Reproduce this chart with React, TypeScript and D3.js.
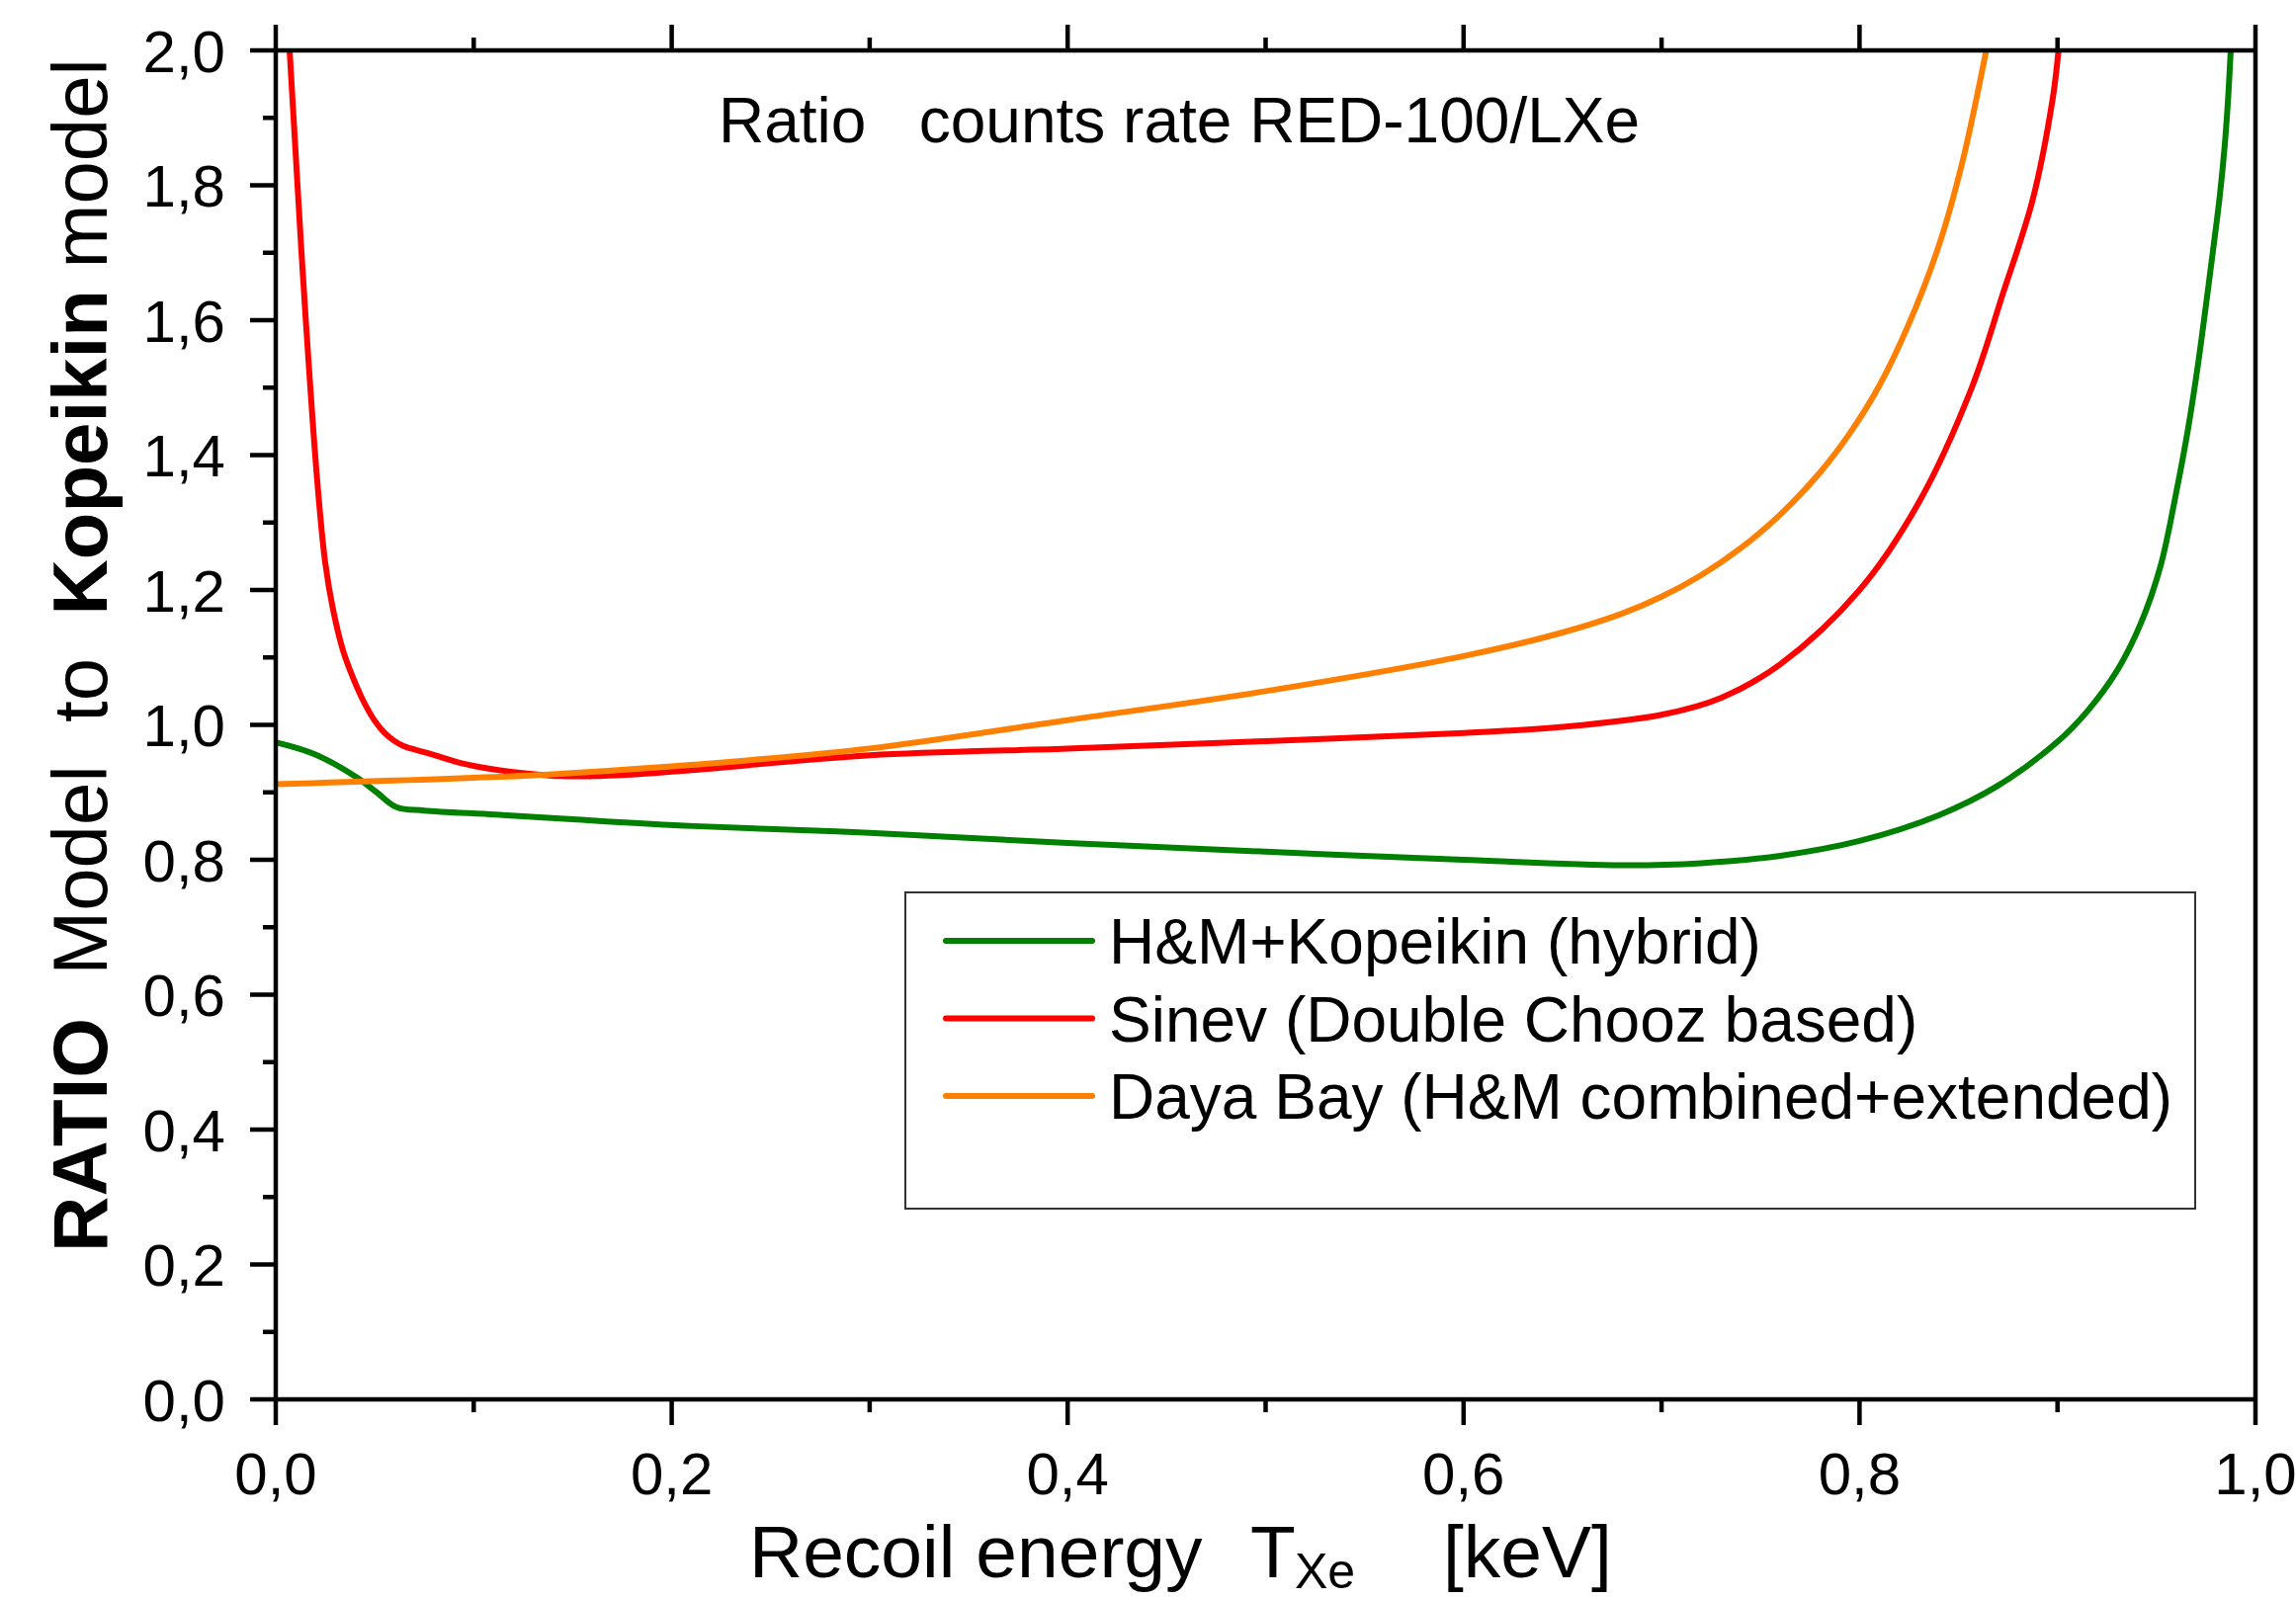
import * as d3 from "d3";

// H&M+Kopeikin (hybrid)
const hybridE = [0, 0.02, 0.041, 0.051, 0.061, 0.075, 0.111, 0.15, 0.211, 0.3, 0.4, 0.5, 0.6, 0.68, 0.72, 0.76, 0.8, 0.84, 0.87, 0.9, 0.915, 0.93, 0.942, 0.952, 0.96, 0.966, 0.971, 0.9755, 0.9795, 0.982, 0.9845, 0.9862, 0.9875];
const hybridR = [0.974, 0.956, 0.922, 0.9, 0.878, 0.873, 0.867, 0.86, 0.85, 0.84, 0.825, 0.812, 0.8, 0.792, 0.795, 0.806, 0.828, 0.866, 0.91, 0.975, 1.02, 1.08, 1.15, 1.235, 1.345, 1.44, 1.535, 1.634, 1.725, 1.785, 1.86, 1.93, 2.0];

// Sinev (Double Chooz based)
const sinevE = [0.007, 0.01, 0.013, 0.017, 0.021, 0.025, 0.029, 0.034, 0.039, 0.044, 0.05, 0.055, 0.06, 0.065, 0.077, 0.094, 0.11, 0.127, 0.144, 0.16, 0.177, 0.21, 0.3, 0.4, 0.5, 0.6, 0.65, 0.7, 0.73, 0.76, 0.8, 0.83, 0.8567, 0.8725, 0.8875, 0.8975, 0.9005];
const sinevR = [2.0, 1.85, 1.7, 1.52, 1.36, 1.24, 1.17, 1.11, 1.07, 1.037, 1.006, 0.988, 0.976, 0.968, 0.958, 0.943, 0.934, 0.928, 0.924, 0.924, 0.926, 0.933, 0.955, 0.965, 0.976, 0.988, 0.997, 1.015, 1.04, 1.09, 1.2, 1.33, 1.5, 1.64, 1.779, 1.927, 2.0];

// Daya Bay (H&M combined+extended)
const dayaE = [0, 0.128, 0.211, 0.3, 0.4, 0.5, 0.6, 0.65, 0.68, 0.7, 0.72, 0.74, 0.76, 0.78, 0.795, 0.81, 0.825, 0.84, 0.852, 0.864];
const dayaR = [0.912, 0.925, 0.941, 0.965, 1.007, 1.05, 1.102, 1.137, 1.165, 1.19, 1.222, 1.262, 1.312, 1.374, 1.432, 1.503, 1.595, 1.71, 1.835, 2.0];

const seriesNames = ["H&M+Kopeikin (hybrid)", "Sinev (Double Chooz based)", "Daya Bay (H&M combined+extended)"];
const seriesColors = ["#008000", "#ff0000", "#ff8000"];

const xMajor = [0, 0.2, 0.4, 0.6, 0.8, 1.0];
const xMinor = [0.1, 0.3, 0.5, 0.7, 0.9];
const yMajor = [0, 0.2, 0.4, 0.6, 0.8, 1.0, 1.2, 1.4, 1.6, 1.8, 2.0];
const yMinor = [0.1, 0.3, 0.5, 0.7, 0.9, 1.1, 1.3, 1.5, 1.7, 1.9];

const W = 2323;
const H = 1618;
const FONT = "'Liberation Sans', Arial, Helvetica, sans-serif";

const fmt = (v: number) => d3.format(".1f")(v).replace(".", ",");

export default function App() {
  const x = d3.scaleLinear().domain([0, 1]).range([279, 2282]);
  const y = d3.scaleLinear().domain([0, 2]).range([1416, 51]);

  const line = d3
    .line<[number, number]>()
    .x((d) => x(d[0]))
    .y((d) => y(d[1]))
    .curve(d3.curveCatmullRom.alpha(0.5));

  const series = [
    d3.zip(hybridE, hybridR) as [number, number][],
    d3.zip(sinevE, sinevR) as [number, number][],
    d3.zip(dayaE, dayaR) as [number, number][],
  ];

  const major = 26;
  const minor = 13;
  const sw = 4.5;

  return (
    <svg
      width={W}
      height={H}
      style={{ position: "absolute", left: 0, top: 0, background: "#fff" }}
      fontFamily={FONT}
    >
      <defs>
        <clipPath id="plot">
          <rect x={x(0)} y={y(2)} width={x(1) - x(0)} height={y(0) - y(2)} />
        </clipPath>
      </defs>
      <rect width={W} height={H} fill="#fff" />

      {/* curves */}
      <g clipPath="url(#plot)">
        {series.map((s, i) => (
          <path
            key={i}
            d={line(s) || ""}
            fill="none"
            stroke={seriesColors[i]}
            strokeWidth={6}
            strokeLinejoin="round"
          />
        ))}
      </g>

      {/* frame */}
      <g stroke="#000" strokeWidth={sw} fill="none">
        <line x1={x(0)} x2={x(1)} y1={y(0)} y2={y(0)} />
        <line x1={x(0)} x2={x(1)} y1={y(2)} y2={y(2)} />
        <line x1={x(0)} x2={x(0)} y1={y(0)} y2={y(2)} />
        <line x1={x(1)} x2={x(1)} y1={y(0)} y2={y(2)} />
        {/* bottom + top ticks */}
        {xMajor.map((v) => (
          <g key={"xM" + v}>
            <line x1={x(v)} x2={x(v)} y1={y(0)} y2={y(0) + major} />
            <line x1={x(v)} x2={x(v)} y1={y(2)} y2={y(2) - major} />
          </g>
        ))}
        {xMinor.map((v) => (
          <g key={"xm" + v}>
            <line x1={x(v)} x2={x(v)} y1={y(0)} y2={y(0) + minor} />
            <line x1={x(v)} x2={x(v)} y1={y(2)} y2={y(2) - minor} />
          </g>
        ))}
        {/* left ticks */}
        {yMajor.map((v) => (
          <line key={"yM" + v} x1={x(0) - major} x2={x(0)} y1={y(v)} y2={y(v)} />
        ))}
        {yMinor.map((v) => (
          <line key={"ym" + v} x1={x(0) - minor} x2={x(0)} y1={y(v)} y2={y(v)} />
        ))}
      </g>

      {/* tick labels */}
      <g fontSize={60} fill="#000">
        {xMajor.map((v) => (
          <text key={"xl" + v} x={x(v)} y={1512} textAnchor="middle">
            {fmt(v)}
          </text>
        ))}
        {yMajor.map((v) => (
          <text key={"yl" + v} x={228} y={y(v)} dy="0.36em" textAnchor="end">
            {fmt(v)}
          </text>
        ))}
      </g>

      {/* title */}
      <text x={727} y={144} fontSize={64} style={{ whiteSpace: "pre" }}>
        {"Ratio   counts rate RED-100/LXe"}
      </text>

      {/* x axis title */}
      <text y={1596} fontSize={75} style={{ whiteSpace: "pre" }}>
        <tspan x={758}>Recoil energy</tspan>
        <tspan x={1265}>T</tspan>
        <tspan x={1310} y={1607} fontSize={50}>Xe</tspan>
        <tspan x={1460} y={1596}>[keV]</tspan>
      </text>

      {/* y axis title */}
      <text
        transform={`translate(108, 663) rotate(-90)`}
        textAnchor="middle"
        fontSize={78}
        style={{ whiteSpace: "pre" }}
      >
        <tspan fontWeight="bold">RATIO</tspan>
        <tspan>{"  Model  to  "}</tspan>
        <tspan fontWeight="bold">Kopeikin</tspan>
        <tspan>{" model"}</tspan>
      </text>

      {/* legend */}
      <rect x={916} y={903} width={2221 - 916} height={1223 - 903} fill="#fff" stroke="#333" strokeWidth={2} />
      {seriesNames.map((name, i) => {
        const ly = 952 + i * 78.5;
        return (
          <g key={name}>
            <line x1={957} x2={1105} y1={ly} y2={ly} stroke={seriesColors[i]} strokeWidth={6} strokeLinecap="round" />
            <text x={1122} y={ly + 23} fontSize={64}>
              {name}
            </text>
          </g>
        );
      })}
    </svg>
  );
}
